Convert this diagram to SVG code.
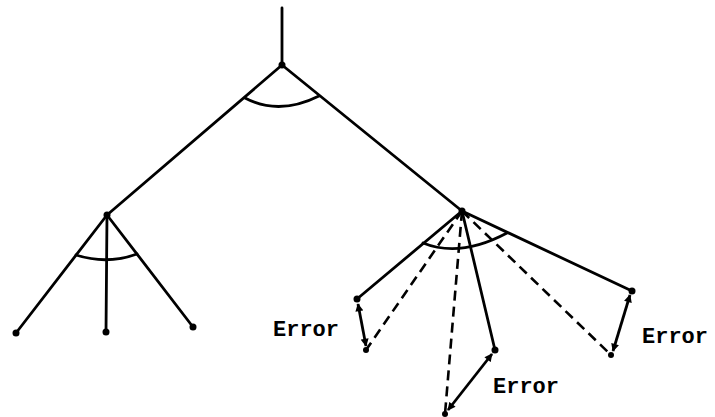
<svg xmlns="http://www.w3.org/2000/svg" width="715" height="417" viewBox="0 0 715 417">
<style>
.e{stroke:#000;stroke-width:2.8;fill:none;stroke-linecap:round}
.d{stroke:#000;stroke-width:2.6;fill:none;stroke-dasharray:10 6}
.a{stroke:#000;stroke-width:2.8;fill:none;marker-start:url(#ah);marker-end:url(#ah)}
.n{fill:#000}
.t{font-family:"Liberation Mono","DejaVu Sans Mono",monospace;font-weight:bold;font-size:22px;fill:#000}
</style>
<defs>
<marker id="ah" viewBox="0 0 10 10" refX="9" refY="5" markerWidth="10" markerHeight="8" markerUnits="userSpaceOnUse" orient="auto-start-reverse">
<path d="M0,0 L10,5 L0,10 Z" fill="#000"/>
</marker>
</defs>
<g id="connectors">
<line class="e" x1="282" y1="8" x2="282" y2="65"/>
<line class="e" x1="282" y1="65" x2="107" y2="215"/>
<line class="e" x1="282" y1="65" x2="462" y2="211"/>
<path class="e" d="M245,98 Q279,116 319,96"/>
<line class="e" x1="107" y1="215" x2="16" y2="333"/>
<line class="e" x1="107" y1="215" x2="106" y2="332"/>
<line class="e" x1="107" y1="215" x2="193" y2="327"/>
<path class="e" d="M76,255 Q107,265 137,254"/>
<line class="e" x1="462" y1="211" x2="357" y2="299"/>
<line class="e" x1="462" y1="211" x2="495" y2="350"/>
<line class="e" x1="462" y1="211" x2="632" y2="291"/>
<path class="e" d="M423,243 Q460,258 507,233"/>
<line class="d" x1="462" y1="211" x2="366" y2="350"/>
<line class="d" x1="462" y1="211" x2="445" y2="414"/>
<line class="d" x1="462" y1="211" x2="611" y2="355"/>
<line class="a" x1="358" y1="304" x2="366" y2="346"/>
<line class="a" x1="492" y1="354" x2="448" y2="410"/>
<line class="a" x1="630" y1="295" x2="613" y2="351"/>
</g>
<g id="root"><circle class="n" cx="282" cy="65" r="3.5"/></g>
<g id="left"><circle class="n" cx="107" cy="215" r="3.5"/></g>
<g id="left-1"><circle class="n" cx="16" cy="333" r="3.5"/></g>
<g id="left-2"><circle class="n" cx="106" cy="332" r="3.5"/></g>
<g id="left-3"><circle class="n" cx="193" cy="327" r="3.5"/></g>
<g id="right"><circle class="n" cx="462" cy="211" r="3.5"/></g>
<g id="right-1"><circle class="n" cx="357" cy="299" r="3.5"/></g>
<g id="right-2"><circle class="n" cx="495" cy="350" r="3.5"/></g>
<g id="right-3"><circle class="n" cx="632" cy="291" r="3.5"/></g>
<g id="dash-1"><circle class="n" cx="366" cy="350" r="3"/></g>
<g id="dash-2"><circle class="n" cx="445" cy="414" r="3"/></g>
<g id="dash-3"><circle class="n" cx="611" cy="355" r="3"/></g>
<g id="labels">
<text class="t" x="273" y="336">Error</text>
<text class="t" x="493" y="393">Error</text>
<text class="t" x="642" y="343">Error</text>
</g>
</svg>
